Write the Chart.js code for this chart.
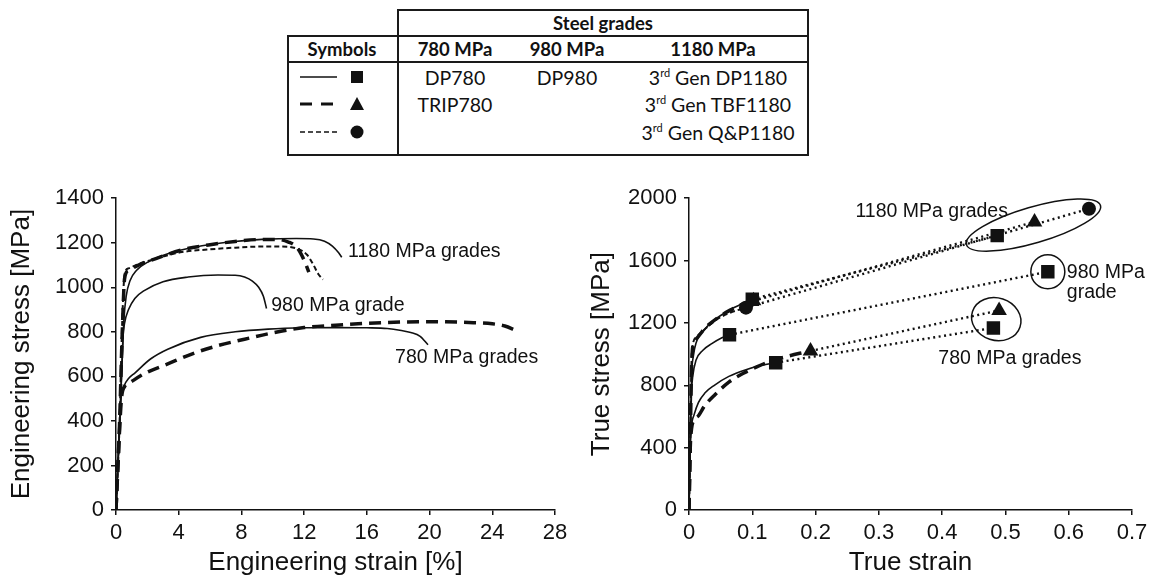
<!DOCTYPE html>
<html>
<head>
<meta charset="utf-8">
<script src="https://cdn.jsdelivr.net/npm/chart.js@4.4.0/dist/chart.umd.min.js"></script>
<style>
  html, body { margin: 0; padding: 0; background: #fff; }
  body { width: 1156px; height: 578px; position: relative; overflow: hidden; }
  .ln { position: absolute; background: #1a1a1a; }
  .cell { position: absolute; transform: translate(-50%, -50%); white-space: nowrap;
          font-family: Lato, "Open Sans", sans-serif; font-size: 19.5px; color: #111; }
  .cell sup { font-size: 11px; vertical-align: 8px; line-height: 0; }
  .b { font-weight: bold; font-size: 18.5px; }
  canvas { position: absolute; }
</style>
</head>
<body>
<!-- legend table -->
<div class="ln" style="left:397px;top:9px;width:412px;height:2px"></div>
<div class="ln" style="left:287px;top:35px;width:522px;height:2px"></div>
<div class="ln" style="left:287px;top:61px;width:522px;height:2px"></div>
<div class="ln" style="left:287px;top:154px;width:522px;height:2px"></div>
<div class="ln" style="left:287px;top:35px;width:2px;height:121px"></div>
<div class="ln" style="left:397px;top:9px;width:2px;height:147px"></div>
<div class="ln" style="left:807px;top:9px;width:2px;height:147px"></div>

<div class="cell b" style="left:603px;top:23px">Steel grades</div>
<div class="cell b" style="left:342px;top:49px">Symbols</div>
<div class="cell b" style="left:455px;top:49px">780 MPa</div>
<div class="cell b" style="left:567px;top:49px">980 MPa</div>
<div class="cell b" style="left:713px;top:49px">1180 MPa</div>
<div class="cell" style="left:455px;top:77px">DP780</div>
<div class="cell" style="left:567px;top:77px">DP980</div>
<div class="cell" style="left:718px;top:77px">3<sup>rd</sup> Gen DP1180</div>
<div class="cell" style="left:455px;top:104px">TRIP780</div>
<div class="cell" style="left:718px;top:104px">3<sup>rd</sup> Gen TBF1180</div>
<div class="cell" style="left:718px;top:132px">3<sup>rd</sup> Gen Q&amp;P1180</div>

<svg style="position:absolute;left:290px;top:64px" width="100" height="90">
  <line x1="10" y1="13" x2="47" y2="13" stroke="#111" stroke-width="1.5"/>
  <rect x="61" y="7" width="12" height="12" fill="#111"/>
  <line x1="10" y1="40" x2="47" y2="40" stroke="#111" stroke-width="3" stroke-dasharray="12 9"/>
  <polygon points="67,33 74,46 60,46" fill="#111"/>
  <line x1="10" y1="68" x2="47" y2="68" stroke="#111" stroke-width="1.5" stroke-dasharray="5 3"/>
  <circle cx="67" cy="68" r="6.5" fill="#111"/>
</svg>

<canvas id="engChart" width="580" height="400" style="left:0;top:178px"></canvas>
<canvas id="trueChart" width="576" height="400" style="left:580px;top:178px"></canvas>

<script>
// ---- Engineering stress-strain curves: [strain %, stress MPa]
const dp780Eng = [[0,0],[0.2,330],[0.32,500],[0.5,555],[0.8,590],[1.2,615],[2.2,678],[3.3,722],[5.4,775],[7.6,800],[9.7,812],[12,818],[14,819],[16,818],[17.3,815],[18.2,806],[18.8,797],[19.4,780],[19.9,742]];
const trip780Eng = [[0,0],[0.2,320],[0.35,500],[0.55,555],[0.8,568],[1.8,612],[3.3,656],[5,705],[6.5,738],[8.2,767],[10.1,797],[12,819],[14,830],[16,838],[18.3,844],[20.4,845],[22.5,842],[24,836],[24.8,826],[25.5,806]];
const dp980Eng = [[0,0],[0.2,330],[0.35,600],[0.45,780],[0.55,840],[0.8,900],[1.2,950],[1.8,985],[3,1025],[4.6,1046],[6.5,1055],[7.6,1054],[8.2,1046],[8.7,1028],[9.1,1000],[9.4,960],[9.6,905]];
const dp1180Eng = [[0,0],[0.2,330],[0.4,680],[0.5,850],[0.65,960],[0.9,1030],[1.3,1075],[2.1,1116],[3.4,1153],[5,1180],[7.2,1203],[9.3,1215],[11.5,1219],[12.6,1217],[13.3,1207],[13.8,1185],[14.2,1155],[14.4,1135]];
const tbf1180Eng = [[0,0],[0.2,330],[0.4,800],[0.55,1040],[0.8,1075],[1.6,1105],[2.5,1128],[4.2,1168],[5.9,1190],[7.6,1206],[8.9,1214],[10.3,1215],[11,1203],[11.5,1182],[11.8,1150],[12.1,1105],[12.3,1068]];
const qp1180Eng = [[0,0],[0.2,330],[0.4,850],[0.55,1060],[0.8,1085],[1.3,1100],[2.5,1128],[4.2,1158],[5.9,1170],[7.6,1178],[9.3,1183],[10.6,1183],[11.6,1172],[12.2,1145],[12.6,1100],[12.9,1060],[13.2,1035]];

// ---- True stress-strain curves up to UTS: [true strain, MPa]
const dp780True = [[0,0],[0.002,400],[0.004,540],[0.008,610],[0.015,690],[0.025,750],[0.04,800],[0.063,857],[0.09,900],[0.115,928],[0.137,945]];
const trip780True = [[0,0],[0.002,400],[0.004,520],[0.008,575],[0.015,605],[0.025,670],[0.041,740],[0.063,820],[0.085,875],[0.107,918],[0.13,955],[0.157,987],[0.175,1005],[0.192,1020]];
const dp980True = [[0,0],[0.002,450],[0.004,760],[0.006,860],[0.011,960],[0.022,1025],[0.036,1067],[0.052,1105],[0.064,1124]];
const dp1180True = [[0,0],[0.002,450],[0.004,850],[0.007,990],[0.011,1070],[0.025,1160],[0.041,1222],[0.063,1280],[0.085,1325],[0.1,1352]];
const tbf1180True = [[0,0],[0.002,450],[0.004,900],[0.006,1050],[0.012,1100],[0.025,1165],[0.045,1232],[0.065,1282],[0.085,1320],[0.102,1342]];
const qp1180True = [[0,0],[0.002,450],[0.004,950],[0.006,1060],[0.012,1110],[0.025,1160],[0.045,1225],[0.065,1265],[0.09,1298]];

// ---- UTS point (end of curve) and fracture point, true values
const dp780Pts = [[0.137,945],[0.481,1168]];
const trip780Pts = [[0.192,1020],[0.49,1280]];
const dp980Pts = [[0.064,1124],[0.567,1528]];
const dp1180Pts = [[0.1,1352],[0.487,1760]];
const tbf1180Pts = [[0.102,1342],[0.546,1848]];
const qp1180Pts = [[0.09,1298],[0.632,1932]];

// ---- tick setup
const engXTicks = { min: 0, max: 28, step: 4 };
const engYTicks = { min: 0, max: 1400, step: 200 };
const trueXTicks = { min: 0, max: 0.7, step: 0.1 };
const trueYTicks = { min: 0, max: 2000, step: 400 };

// ---- text notes (anchored in data units)
const engNotes = [
  { text: '1180 MPa grades', at: [14.8, 1158] },
  { text: '980 MPa grade', at: [9.9, 917] },
  { text: '780 MPa grades', at: [17.8, 682] }
];
const trueNotes = [
  { text: '1180 MPa grades', at: [0.263, 1915] },
  { text: '980 MPa', at: [0.597, 1522] },
  { text: 'grade', at: [0.597, 1392] },
  { text: '780 MPa grades', at: [0.394, 973] }
];

const FONT = "'Liberation Sans', Arial, sans-serif";
const INK = '#111';

const xy = arr => arr.map(p => ({ x: p[0], y: p[1] }));

function curve(data, style) {
  const s = {
    solid: { borderWidth: 1.6, borderDash: [] },
    dash: { borderWidth: 3.5, borderDash: [12, 7] },
    short: { borderWidth: 2, borderDash: [5, 3] }
  }[style];
  return {
    data: xy(data), showLine: true, pointRadius: 0, borderColor: INK,
    borderWidth: s.borderWidth, borderDash: s.borderDash,
    cubicInterpolationMode: 'monotone', fill: false
  };
}

function connector(pts, shape) {
  const r = { rect: 9.5, triangle: 9, circle: 7 }[shape];
  return {
    data: xy(pts), showLine: true, tension: 0, borderColor: INK,
    borderWidth: 2.4, borderDash: [2, 3.5],
    pointStyle: shape, pointRadius: r, pointBackgroundColor: INK,
    pointBorderColor: INK, pointBorderWidth: 0
  };
}

function axes(xt, yt, xTitle, yTitle, yWidth, fmt) {
  const common = {
    grid: { drawOnChartArea: false, drawTicks: true, tickLength: 5, color: INK, lineWidth: 1.5 },
    border: { display: true, color: INK, width: 1.5 }
  };
  return {
    x: Object.assign({
      type: 'linear', min: xt.min, max: xt.max,
      ticks: { stepSize: xt.step, font: { family: FONT, size: 22 }, color: INK, padding: 5,
               maxRotation: 0, callback: fmt },
      title: { display: true, text: xTitle, font: { family: FONT, size: 26 }, color: INK,
               padding: { top: 0, bottom: 0 } },
      afterFit: s => { s.height = 68; }
    }, common),
    y: Object.assign({
      type: 'linear', min: yt.min, max: yt.max,
      ticks: { stepSize: yt.step, font: { family: FONT, size: 22 }, color: INK, padding: 7,
               callback: v => String(v) },
      title: { display: true, text: yTitle, font: { family: FONT, size: 26 }, color: INK,
               padding: { top: 6, bottom: 0 } },
      afterFit: s => { s.width = yWidth; }
    }, common)
  };
}

// notes and rings drawn through the chart scales
function annotate(notes, rings) {
  return {
    id: 'notes',
    afterDatasetsDraw(chart) {
      const { ctx, scales: { x, y } } = chart;
      const px = p => [x.getPixelForValue(p[0]), y.getPixelForValue(p[1])];
      ctx.save();
      ctx.fillStyle = INK;
      ctx.font = '19.5px ' + FONT;
      ctx.textBaseline = 'middle';
      notes.forEach(n => { const [a, b] = px(n.at); ctx.fillText(n.text, a, b); });
      ctx.strokeStyle = INK;
      ctx.lineWidth = 1.5;
      (rings || []).forEach(r => {
        const p1 = px(r.pts[0]), p2 = px(r.pts[r.pts.length - 1]);
        const dx = p2[0] - p1[0], dy = p2[1] - p1[1];
        const len = Math.hypot(dx, dy);
        const ang = len ? Math.atan2(dy, dx) : 0;
        const cx = (p1[0] + p2[0]) / 2 + r.shift * Math.cos(ang);
        const cy = (p1[1] + p2[1]) / 2 + r.shift * Math.sin(ang);
        ctx.beginPath();
        ctx.ellipse(cx, cy, len / 2 + r.pad, r.half, ang, 0, Math.PI * 2);
        ctx.stroke();
      });
      ctx.restore();
    }
  };
}

const baseOpts = {
  responsive: false, animation: false, devicePixelRatio: 1,
  plugins: { legend: { display: false }, tooltip: { enabled: false } },
  events: []
};

new Chart(document.getElementById('engChart'), {
  type: 'scatter',
  data: {
    datasets: [
      curve(dp780Eng, 'solid'), curve(trip780Eng, 'dash'), curve(dp980Eng, 'solid'),
      curve(dp1180Eng, 'solid'), curve(tbf1180Eng, 'dash'), curve(qp1180Eng, 'short')
    ]
  },
  options: Object.assign({}, baseOpts, {
    layout: { padding: { top: 19, right: 25, left: 0, bottom: 0 } },
    scales: axes(engXTicks, engYTicks, 'Engineering strain [%]', 'Engineering stress [MPa]', 116,
                 v => String(v))
  }),
  plugins: [annotate(engNotes)]
});

new Chart(document.getElementById('trueChart'), {
  type: 'scatter',
  data: {
    datasets: [
      connector(dp780Pts, 'rect'), connector(trip780Pts, 'triangle'), connector(dp980Pts, 'rect'),
      connector(dp1180Pts, 'rect'), connector(tbf1180Pts, 'triangle'), connector(qp1180Pts, 'circle'),
      curve(dp780True, 'solid'), curve(trip780True, 'dash'), curve(dp980True, 'solid'),
      curve(dp1180True, 'solid'), curve(tbf1180True, 'dash'), curve(qp1180True, 'short')
    ]
  },
  options: Object.assign({}, baseOpts, {
    layout: { padding: { top: 19, right: 24, left: 0, bottom: 0 } },
    scales: axes(trueXTicks, trueYTicks, 'True strain', 'True stress [MPa]', 109,
                 v => (v === 0 ? '0' : Number(v).toFixed(1)))
  }),
  plugins: [annotate(trueNotes, [
    { pts: [dp1180Pts[1], qp1180Pts[1]], pad: 22, half: 18, shift: -10 },
    { pts: [dp980Pts[1]], pad: 17, half: 17, shift: 0 },
    { pts: [trip780Pts[1], dp780Pts[1]], pad: 12, half: 25, shift: 0 }
  ])]
});
</script>
</body>
</html>
